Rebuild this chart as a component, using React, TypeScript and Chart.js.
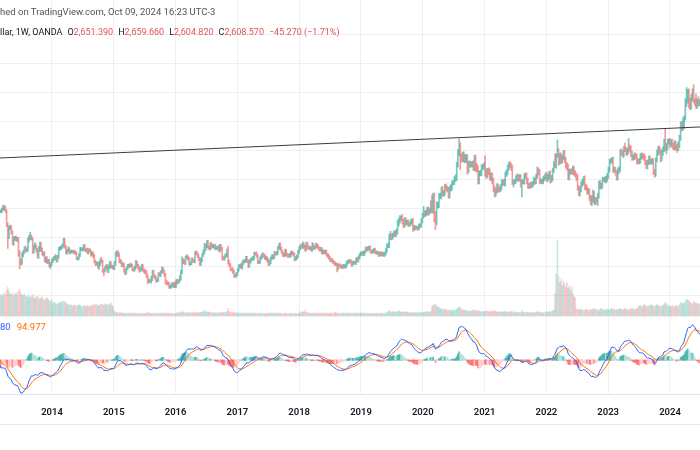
import React, { useEffect, useRef } from "react";
import { Chart, registerables } from "chart.js";

Chart.register(...registerables);

// ---------- data (weekly bars, first bar = week of Mon 2 Jul 2012) ----------
const FIRST_WEEK_UTC = Date.UTC(2012, 6, 2);
const WEEK_MS = 7 * 86400000;

const yearTicks = [2014, 2015, 2016, 2017, 2018, 2019, 2020, 2021, 2022, 2023, 2024];
const priceGridLines = [1000, 1200, 1400, 1600, 1800, 2000, 2200, 2400, 2600, 2800];

const closes = [
  // 2012 H2
  1580,1590,1582,1620,1605,1620,1616,1672,1691,1740,1770,1774,1773,1780,1758,1724,1712,1677,1731,1714,1751,1712,1703,1696,1658,1657,1649,
  // 2013
  1662,1687,1658,1667,1667,1609,1581,1577,1577,1592,1606,1597,1580,1477,1406,1462,1468,1434,1362,1386,1392,1383,1387,1297,1234,1223,1277,1295,1322,1310,1313,1377,1396,1396,1387,1308,1333,1338,1309,1272,1315,1352,1315,1287,1288,1243,1253,1230,1235,1203,1213,1235,
  // 2014
  1248,1254,1264,1240,1262,1318,1324,1329,1339,1379,1335,1294,1303,1318,1294,1300,1300,1300,1293,1292,1252,1253,1274,1315,1316,1320,1337,1311,1310,1294,1309,1305,1280,1287,1269,1231,1216,1216,1192,1222,1238,1231,1171,1169,1187,1197,1167,1191,1222,1195,1195,1186,
  // 2015
  1216,1277,1293,1279,1234,1228,1204,1213,1167,1152,1184,1199,1201,1207,1203,1178,1174,1189,1225,1204,1190,1169,1180,1201,1174,1163,1157,1132,1096,1098,1094,1113,1160,1133,1121,1100,1102,1145,1137,1157,1182,1163,1141,1088,1081,1077,1058,1058,1075,1065,1076,1061,
  // 2016
  1097,1089,1097,1118,1158,1239,1230,1221,1259,1259,1250,1217,1221,1243,1235,1233,1290,1288,1273,1252,1214,1242,1275,1298,1317,1339,1366,1327,1322,1350,1335,1335,1340,1322,1326,1328,1310,1338,1317,1256,1251,1266,1275,1303,1226,1207,1178,1177,1162,1134,1133,1146,
  // 2017
  1173,1197,1205,1190,1220,1234,1235,1257,1234,1202,1230,1245,1249,1254,1285,1284,1268,1228,1228,1254,1267,1280,1271,1254,1256,1242,1212,1228,1254,1269,1258,1289,1285,1291,1325,1346,1320,1297,1280,1274,1304,1280,1272,1269,1275,1294,1287,1279,1248,1256,1267,1297,
  // 2018
  1322,1338,1332,1349,1333,1315,1355,1330,1323,1323,1313,1347,1323,1332,1345,1336,1323,1314,1318,1292,1302,1294,1298,1278,1269,1255,1241,1241,1231,1223,1214,1212,1184,1205,1201,1196,1194,1201,1196,1203,1222,1228,1234,1233,1209,1222,1223,1221,1248,1238,1257,1279,1286,
  // 2019
  1290,1282,1298,1321,1314,1322,1328,1299,1298,1302,1313,1295,1291,1291,1276,1286,1280,1286,1276,1284,1305,1341,1342,1399,1409,1400,1415,1426,1419,1440,1496,1513,1527,1529,1507,1488,1517,1497,1504,1488,1490,1505,1514,1459,1468,1462,1464,1460,1476,1478,1511,1552,
  // 2020
  1560,1557,1571,1589,1570,1584,1643,1585,1673,1530,1498,1620,1620,1682,1683,1728,1700,1703,1743,1735,1730,1684,1730,1743,1771,1775,1799,1808,1902,1975,2035,1944,1940,1964,1933,1940,1950,1862,1900,1899,1899,1902,1879,1951,1889,1871,1788,1839,1839,1881,1883,1898,
  // 2021
  1849,1828,1856,1847,1814,1824,1784,1734,1700,1720,1745,1732,1729,1744,1777,1777,1769,1831,1844,1881,1903,1892,1877,1764,1782,1783,1808,1815,1802,1814,1763,1781,1781,1818,1827,1788,1754,1750,1760,1757,1768,1796,1783,1818,1865,1846,1785,1783,1783,1798,1811,1829,
  // 2022
  1797,1818,1835,1791,1807,1859,1899,1889,1966,1989,1921,1958,1925,1946,1975,1932,1897,1883,1811,1846,1853,1851,1871,1840,1827,1811,1742,1703,1727,1766,1775,1802,1747,1738,1712,1716,1675,1644,1660,1695,1644,1656,1645,1681,1770,1751,1754,1797,1797,1793,1798,1824,
  // 2023
  1865,1920,1926,1928,1865,1865,1842,1810,1856,1868,1989,1978,1969,2008,2004,1983,1990,2016,2011,1978,1946,1948,1961,1958,1920,1919,1925,1955,1962,1959,1943,1914,1889,1915,1940,1919,1924,1925,1848,1833,1933,1981,2006,1993,1940,1981,2002,2072,2005,2020,2053,2063,
  // 2024
  2049,2049,2029,2018,2039,2024,2013,2035,2083,2179,2155,2165,2230,2330,2344,2392,2338,2302,2360,2415,2334,2327,2294,2333,2322,2326,2391,
];

// upper wick above the candle body (USD)
const wickUp = [
  12,10,15,8,14,10,9,6,12,10,15,9,14,16,10,12,9,11,8,14,12,10,9,11,14,6,12,
  12,18,14,10,9,8,10,12,9,10,14,11,16,8,20,12,15,10,9,14,12,16,11,10,9,14,15,12,10,16,11,18,17,37,18,8,12,24,10,12,20,12,11,10,9,11,10,12,10,14,9,10,
  10,12,15,9,14,11,12,10,14,13,13,8,12,14,10,9,11,8,10,12,7,9,12,14,10,8,12,10,9,14,10,12,8,11,10,12,9,14,10,8,12,22,10,9,11,14,12,16,10,9,12,8,
  14,20,14,10,12,14,10,9,8,12,10,12,11,10,14,9,10,12,14,9,8,10,12,11,9,8,10,12,9,14,8,16,10,12,9,10,12,9,11,10,12,9,10,8,14,9,12,10,8,12,9,14,
  10,12,9,14,12,25,12,14,10,20,12,10,9,12,14,10,12,14,10,9,8,12,10,14,41,12,9,12,14,10,12,14,10,12,9,10,14,12,10,12,9,10,12,14,34,12,10,9,12,10,9,11,
  10,12,9,11,14,10,9,12,10,11,12,9,10,12,11,10,14,12,9,10,11,12,10,9,12,8,10,12,9,11,10,12,9,11,10,11,14,12,9,10,12,11,9,10,12,9,11,10,12,9,10,11,
  12,10,14,18,11,12,10,9,11,10,12,14,10,9,12,11,10,9,12,10,11,9,10,12,9,11,10,9,12,10,9,11,8,10,12,9,11,10,9,12,14,10,12,9,11,10,12,9,10,12,14,9,11,
  10,12,9,11,10,12,9,11,10,12,9,11,10,12,9,11,10,12,9,11,14,12,16,20,30,14,12,16,18,12,20,18,22,16,28,14,18,16,12,14,12,16,10,14,12,10,12,10,14,12,16,12,
  51,20,14,16,18,15,8,46,30,30,45,25,20,18,19,16,22,18,20,24,16,14,18,20,16,14,18,22,16,28,40,15,30,22,24,28,20,18,22,26,20,18,24,14,14,18,20,16,22,18,16,14,
  61,20,18,22,24,16,18,22,20,18,24,20,16,18,20,16,22,18,20,16,14,18,16,20,12,14,16,20,14,18,16,12,16,18,14,16,18,14,16,20,14,18,12,16,18,12,20,16,14,18,16,14,
  18,14,16,22,18,16,22,75,8,81,20,18,22,16,20,23,18,16,20,22,16,18,20,14,18,16,20,14,18,16,22,14,20,18,16,20,18,16,22,28,20,18,16,20,16,20,18,14,16,18,22,14,
  16,18,14,22,24,18,16,14,20,18,14,20,16,18,40,14,20,63,18,16,14,18,20,16,14,18,16,20,18,14,16,18,14,16,20,18,16,14,18,20,14,18,20,22,18,16,20,3,74,26,20,16,
  16,22,26,20,28,18,14,22,20,16,18,57,6,24,87,25,30,22,26,7,35,20,61,20,35,22,10,
];

// lower wick below the candle body (USD)
const wickDown = [
  10,14,12,9,11,13,8,10,7,12,9,14,10,8,12,9,14,10,12,9,13,10,12,15,9,12,10,
  14,10,12,15,11,10,22,12,10,9,8,12,10,6,85,18,11,14,16,20,10,12,14,30,54,18,12,14,10,12,14,10,12,14,9,22,20,14,12,18,20,14,16,12,18,14,20,12,14,10,20,12,
  12,9,10,14,11,8,10,12,9,10,12,10,14,9,12,8,10,12,9,13,10,12,8,10,9,14,12,10,11,9,12,10,14,11,12,10,14,12,9,16,20,10,14,37,9,10,10,14,11,8,12,10,
  12,10,9,14,11,12,9,10,12,14,9,10,12,11,8,10,12,9,10,11,14,12,9,10,12,11,13,12,19,10,9,12,14,10,9,12,10,8,10,11,9,10,12,14,10,9,12,12,10,9,14,10,
  12,14,10,9,16,12,14,10,12,9,12,10,14,12,10,9,12,10,12,14,11,10,12,9,14,10,12,11,10,12,14,10,12,11,9,12,10,14,12,15,10,12,9,10,14,12,10,12,14,12,10,12,
  12,10,11,9,12,10,12,9,11,14,10,12,11,9,12,10,9,11,12,10,9,12,11,10,12,14,10,9,12,11,10,9,12,10,11,9,12,10,14,11,10,9,12,11,10,12,9,11,14,10,12,9,
  10,12,9,11,12,14,10,12,9,11,10,12,9,11,10,12,9,11,14,10,12,9,11,10,12,9,10,11,12,9,10,12,24,10,9,11,12,10,9,12,11,10,9,12,11,10,12,9,11,10,12,9,10,
  12,10,11,9,12,10,11,9,12,10,11,9,10,12,11,10,9,12,10,11,9,12,14,16,18,20,14,12,16,14,18,20,16,14,18,24,20,16,14,18,12,14,16,20,14,12,10,14,12,10,12,14,
  20,16,14,18,22,14,16,21,20,26,47,15,20,18,16,22,20,18,16,14,20,18,16,14,18,12,14,16,18,20,16,81,24,20,18,22,26,30,18,20,16,18,20,22,39,20,24,22,18,16,20,14,
  32,24,20,18,22,26,18,22,24,20,18,22,20,16,18,20,16,18,14,16,20,14,18,3,20,16,14,18,20,16,20,86,14,18,16,20,18,16,14,18,16,14,18,16,14,20,16,18,14,16,12,14,
  16,14,18,20,16,18,14,11,16,16,26,20,18,16,14,18,22,20,16,18,14,20,18,16,14,22,20,18,22,16,18,14,20,16,18,14,24,20,29,20,18,22,16,29,14,18,22,16,14,18,20,16,
  20,18,16,14,22,18,16,20,14,18,16,14,18,20,16,22,18,16,20,24,18,16,14,20,16,18,14,16,20,18,14,16,18,20,16,14,18,20,16,23,14,16,18,20,22,16,18,16,10,32,18,14,
  33,24,20,18,20,22,29,18,20,16,22,20,18,24,30,20,47,24,20,22,9,20,7,7,20,16,18,
];

// weekly volume (relative units, March 2022 spike = 100)
const volumes = [
  18,20,22,19,21,20,18,22,24,26,23,21,20,22,19,21,23,20,18,22,21,19,20,22,18,16,19,
  26,28,25,27,30,29,31,28,27,29,26,30,28,34,38,32,29,28,30,27,29,31,28,33,35,30,28,27,29,26,25,27,24,26,25,28,24,23,25,26,22,24,23,25,22,21,23,24,22,20,19,21,
  16,18,17,15,16,18,17,19,18,20,19,17,16,15,14,15,14,13,15,14,13,14,15,14,13,12,14,13,12,14,13,12,14,13,15,14,16,15,14,13,15,16,15,14,16,15,14,16,15,17,14,12,
  6,5,5,4,4,5,4,4,3,4,4,3,4,3,4,4,3,4,3,3,4,3,4,3,3,4,3,4,5,4,4,3,4,3,4,3,3,4,3,4,3,3,4,4,3,4,4,3,3,4,3,3,
  4,4,5,4,5,6,5,4,5,4,4,5,4,4,5,4,5,4,4,5,4,5,5,6,8,6,5,6,5,5,4,4,5,4,4,4,5,4,4,5,5,4,5,6,10,6,5,5,4,5,4,4,
  4,4,4,3,4,4,3,4,3,4,4,3,4,3,4,4,3,4,3,4,3,4,3,3,4,3,4,3,4,4,3,4,3,4,4,3,4,3,3,4,3,4,3,3,4,3,4,3,3,4,3,3,
  4,5,5,6,5,8,5,4,4,4,3,4,4,3,4,4,3,4,3,4,4,3,4,3,4,3,4,4,3,4,5,4,4,3,4,3,4,4,3,4,3,4,4,3,4,3,4,3,4,4,3,4,4,
  3,4,3,4,3,3,4,3,3,4,3,3,4,3,3,4,3,4,3,4,3,5,6,7,6,5,6,5,6,5,6,7,6,5,5,6,5,6,5,5,4,5,4,5,4,4,5,4,4,5,4,5,
  5,5,6,5,6,5,6,12,14,16,15,13,12,11,10,9,10,8,9,8,7,8,7,8,7,8,7,8,9,10,12,11,9,8,8,7,8,7,6,7,6,7,8,7,8,7,6,7,6,6,5,6,
  6,7,6,6,5,6,7,6,7,6,5,6,5,5,6,5,6,6,5,6,5,5,6,6,5,5,4,5,5,4,5,7,5,5,4,5,5,4,5,4,5,5,4,5,6,5,5,4,5,4,4,5,
  6,5,6,5,6,7,8,30,55,100,52,44,48,40,46,42,38,44,36,40,34,38,30,26,24,9,8,9,8,9,8,7,8,9,8,7,8,9,8,9,10,8,9,8,7,9,10,8,9,8,7,9,
  9,8,9,10,8,9,8,9,8,9,10,9,8,9,10,9,8,9,8,9,10,9,8,9,10,11,13,14,12,13,15,14,13,12,14,13,15,14,13,12,14,15,13,14,12,13,14,15,18,16,14,13,
  13,12,14,13,12,13,14,12,15,18,17,16,17,19,22,21,20,18,17,16,19,18,16,17,15,16,14,
];

// drawn trend line (two anchors: decimal year, price)
const trendYears = [2012.9, 2024.7];
const trendPrices = [1940, 2163];

// texts
const publishedText = "hed on TradingView.com, Oct 09, 2024 16:23 UTC-3";
const symbolText = "llar, 1W, OANDA";
const ohlcKeys = ["O", "H", "L", "C"];
const ohlcValues = ["2,651.390", "2,659.660", "2,604.820", "2,608.570"];
const changeText = "\u221245.270 (\u22121.71%)";
const macdLegendValues = ["80", "94.977"];

// ---------- view ranges ----------
const X_MIN = 2013.1586;
const X_MAX = 2024.4855;
const PRICE_MIN = 841.4;
const PRICE_MAX = 3034.5;
const VOL_MIN = -2.6;
const VOL_MAX = 415.8;
const MACD_MIN = -99;
const MACD_MAX = 121;

const UP = "rgba(38,166,154,0.62)";
const DOWN = "rgba(239,83,80,0.58)";
const GRID = "rgba(42,46,57,0.07)";
const FONT = "Roboto, 'Noto Sans', sans-serif";

function decimalYear(ms: number): number {
  const d = new Date(ms);
  const y = d.getUTCFullYear();
  const a = Date.UTC(y, 0, 1);
  const b = Date.UTC(y + 1, 0, 1);
  return y + (ms - a) / (b - a);
}

function ema(src: number[], n: number): number[] {
  const k = 2 / (n + 1);
  const out: number[] = [];
  let e = src[0];
  src.forEach((v, i) => {
    e = i === 0 ? v : k * v + (1 - k) * e;
    out.push(e);
  });
  return out;
}

function buildSeries() {
  const xs = closes.map((_, i) => decimalYear(FIRST_WEEK_UTC + i * WEEK_MS));
  const opens = closes.map((c, i) => (i === 0 ? c : closes[i - 1]));
  const highs = closes.map((c, i) => Math.max(opens[i], c) + wickUp[i]);
  const lows = closes.map((c, i) => Math.min(opens[i], c) - wickDown[i]);
  const isUp = closes.map((c, i) => c >= opens[i]);
  const e12 = ema(closes, 12);
  const e26 = ema(closes, 26);
  const macd = e12.map((v, i) => v - e26[i]);
  const signal = ema(macd, 9);
  const hist = macd.map((v, i) => v - signal[i]);
  return { xs, highs, lows, isUp, macd, signal, hist };
}

const hiddenAxis = {
  ticks: { display: false },
  grid: { display: false, drawTicks: false },
  border: { display: false },
};

export default function App() {
  const priceRef = useRef<HTMLCanvasElement | null>(null);
  const macdRef = useRef<HTMLCanvasElement | null>(null);

  useEffect(() => {
    const s = buildSeries();
    const yearTickBuilder = (scale: any) => {
      scale.ticks = yearTicks.map((v) => ({ value: v }));
    };

    const priceChart = new Chart(priceRef.current as HTMLCanvasElement, {
      type: "bar",
      data: {
        datasets: [
          {
            type: "line",
            data: trendYears.map((x, i) => ({ x, y: trendPrices[i] })),
            borderColor: "#3a3d45",
            borderWidth: 1,
            pointRadius: 0,
            yAxisID: "y",
            order: 1,
          } as any,
          {
            type: "bar",
            data: s.xs.map((x, i) => ({ x, y: [s.lows[i], s.highs[i]] })),
            backgroundColor: s.isUp.map((u) => (u ? UP : DOWN)),
            barThickness: 1,
            grouped: false,
            yAxisID: "y",
            order: 2,
          } as any,
          {
            type: "bar",
            data: s.xs.map((x, i) => ({ x, y: volumes[i] })),
            backgroundColor: s.isUp.map((u) => (u ? "rgba(38,166,154,0.26)" : "rgba(239,83,80,0.26)")),
            barThickness: 1,
            grouped: false,
            yAxisID: "yv",
            order: 3,
          } as any,
        ],
      },
      options: {
        animation: false,
        responsive: false,
        maintainAspectRatio: false,
        layout: { padding: 0 },
        plugins: { legend: { display: false }, tooltip: { enabled: false } },
        scales: {
          x: {
            type: "linear",
            min: X_MIN,
            max: X_MAX,
            offset: false,
            grid: { color: GRID, drawTicks: false, offset: false },
            border: { display: false },
            ticks: { display: false },
            afterBuildTicks: yearTickBuilder,
          },
          y: {
            type: "linear",
            position: "right",
            min: PRICE_MIN,
            max: PRICE_MAX,
            grid: { color: GRID, drawTicks: false },
            border: { display: false },
            ticks: { display: false },
            afterBuildTicks: (scale: any) => {
              scale.ticks = priceGridLines.map((v) => ({ value: v }));
            },
          },
          yv: { type: "linear", position: "left", min: VOL_MIN, max: VOL_MAX, display: false },
        },
      } as any,
    });

    const histColors = s.hist.map((h, i) => {
      const prev = i === 0 ? h : s.hist[i - 1];
      if (h >= 0) return h >= prev ? "rgba(38,166,154,0.7)" : "rgba(178,223,219,0.9)";
      return h < prev ? "rgba(255,82,82,0.65)" : "rgba(255,205,210,0.9)";
    });

    const macdChart = new Chart(macdRef.current as HTMLCanvasElement, {
      type: "bar",
      data: {
        datasets: [
          {
            type: "line",
            data: s.xs.map((x, i) => ({ x, y: s.macd[i] })),
            borderColor: "#2962ff",
            borderWidth: 1,
            pointRadius: 0,
            tension: 0,
            order: 1,
          } as any,
          {
            type: "line",
            data: s.xs.map((x, i) => ({ x, y: s.signal[i] })),
            borderColor: "#ff6d00",
            borderWidth: 1,
            pointRadius: 0,
            tension: 0,
            order: 2,
          } as any,
          {
            type: "bar",
            data: s.xs.map((x, i) => ({ x, y: s.hist[i] })),
            backgroundColor: histColors,
            barThickness: 1.2,
            grouped: false,
            order: 3,
          } as any,
          {
            type: "line",
            data: [
              { x: X_MIN - 1, y: 0 },
              { x: X_MAX + 1, y: 0 },
            ],
            borderColor: "rgba(120,123,134,0.55)",
            borderWidth: 1,
            borderDash: [3, 3],
            pointRadius: 0,
            order: 4,
          } as any,
        ],
      },
      options: {
        animation: false,
        responsive: false,
        maintainAspectRatio: false,
        layout: { padding: { left: 0, right: 0, top: 0, bottom: 3 } },
        plugins: { legend: { display: false }, tooltip: { enabled: false } },
        scales: {
          x: {
            type: "linear",
            min: X_MIN,
            max: X_MAX,
            offset: false,
            grid: { color: GRID, drawTicks: false, offset: false },
            border: { display: true, color: "#e0e3eb" },
            ticks: {
              padding: 12,
              color: "#131722",
              autoSkip: false,
              maxRotation: 0,
              font: { family: FONT, size: 9.5, weight: "600" },
              callback: (v: any) => String(v),
            },
            afterBuildTicks: yearTickBuilder,
          },
          y: { type: "linear", min: MACD_MIN, max: MACD_MAX, ...hiddenAxis },
        },
      } as any,
    });

    return () => {
      priceChart.destroy();
      macdChart.destroy();
    };
  }, []);

  const textBase: React.CSSProperties = {
    position: "absolute",
    left: 0,
    whiteSpace: "nowrap",
    fontFamily: FONT,
    fontSize: 9.5,
    lineHeight: "12px",
  };

  return (
    <div
      style={{
        position: "fixed",
        left: 0,
        top: 0,
        width: 700,
        height: 450,
        background: "#ffffff",
        overflow: "hidden",
      }}
    >
      <canvas ref={priceRef} width={700} height={318} style={{ position: "absolute", left: 0, top: 0 }} />
      <canvas ref={macdRef} width={700} height={115} style={{ position: "absolute", left: 0, top: 318 }} />
      <div style={{ position: "absolute", left: 0, top: 424, width: 700, height: 1, background: "#e6e8ee" }} />
      <div style={{ ...textBase, top: 6, color: "#50535e" }}>{publishedText}</div>
      <div style={{ ...textBase, top: 26, fontSize: 9, color: "#131722" }}>
        <span>{symbolText}</span>
        {ohlcKeys.map((k, i) => (
          <span key={k} style={{ marginLeft: 5 }}>
            {k}
            <span style={{ color: "#e0525b" }}>{ohlcValues[i]}</span>
          </span>
        ))}
        <span style={{ marginLeft: 5, color: "#e0525b" }}>{changeText}</span>
      </div>
      <div style={{ ...textBase, top: 321 }}>
        <span style={{ color: "#2962ff" }}>{macdLegendValues[0]}</span>
        <span style={{ color: "#ff6d00", marginLeft: 6 }}>{macdLegendValues[1]}</span>
      </div>
    </div>
  );
}
